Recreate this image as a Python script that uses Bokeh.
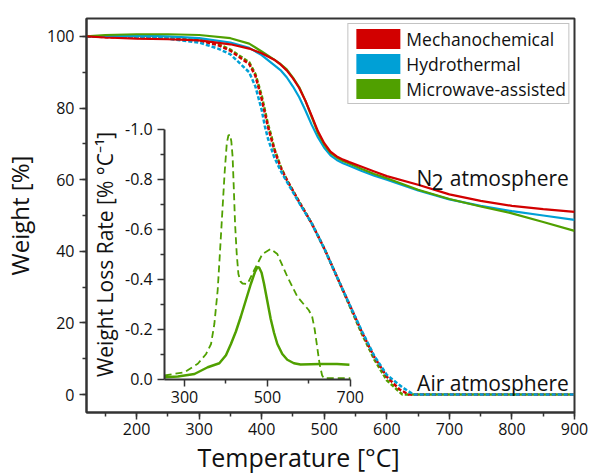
from bokeh.plotting import figure
from bokeh.models import (Range1d, LinearAxis, FixedTicker, SingleIntervalTicker, Title,
                          Legend, LegendItem, Label, ColumnDataSource, NumeralTickFormatter)
from bokeh.embed import file_html
from bokeh.resources import INLINE

FONT = "Open Sans"

series_names = ["Mechanochemical", "Hydrothermal", "Microwave-assisted"]
series_colors = ["#d20000", "#00a0d6", "#50a000"]

# ---- N2 atmosphere (solid) ----
n2_temp = [120, 150, 200, 250, 300, 350, 380, 400, 420, 430, 440, 450, 460, 470, 480, 490, 500, 510, 520,
           530, 540, 560, 580, 600, 650, 700, 750, 800, 850, 900]
n2_mech = [100, 99.7, 99.4, 99.2, 98.9, 97.8, 96.6, 95.3, 93.5, 92.2, 90.5, 88.3, 85.6, 82.0, 77.8, 73.5, 70.2,
           67.8, 66.5, 65.6, 64.9, 63.6, 62.3, 61.0, 58.6, 55.9, 54.1, 52.7, 51.8, 51.0]
n2_hydro = [100, 100.1, 100.2, 100.0, 99.5, 98.3, 96.8, 94.8, 92.0, 90.6, 88.6, 86.0, 83.0, 79.3, 75.3, 71.8,
            68.9, 66.8, 65.5, 64.6, 63.9, 62.4, 61.1, 60.0, 57.0, 54.5, 52.7, 51.2, 50.0, 48.8]
n2_micro = [100, 100.4, 100.6, 100.6, 100.4, 99.5, 98.0, 95.8, 93.5, 92.3, 90.8, 88.5, 85.8, 82.0, 77.5, 73.0,
            69.8, 67.5, 66.2, 65.2, 64.5, 63.0, 61.6, 60.4, 57.2, 54.6, 52.5, 50.6, 48.2, 45.7]

# ---- Air atmosphere (dashed) ----
air_temp_mech = [120, 150, 200, 250, 300, 330, 350, 380, 390, 400, 410, 420, 430, 440, 460, 480, 500,
                 520, 540, 560, 580, 600, 620, 635, 900]
air_mech = [100, 99.8, 99.6, 99.4, 98.8, 97.6, 96.0, 92.3, 89.0, 82.5, 74.8, 68.5, 63.5, 60.0, 53.8, 47.8, 40.8,
            33.0, 25.3, 17.5, 10.5, 5.0, 1.5, 0, 0]
air_temp_hydro = [120, 150, 200, 250, 300, 330, 350, 380, 390, 400, 405, 410, 420, 430, 440, 460, 480, 500,
                  520, 540, 560, 580, 600, 625, 643, 900]
air_hydro = [100, 100, 99.8, 99.4, 98.3, 96.6, 95.0, 90.0, 86.0, 79.5, 75.0, 71.5, 66.3, 62.6, 59.5, 53.5, 47.8,
             40.8, 33.0, 25.3, 17.8, 10.8, 5.5, 2.0, 0, 0]
air_temp_micro = [120, 150, 200, 250, 300, 330, 350, 380, 390, 400, 410, 415, 420, 430, 440, 460, 480, 500,
                  520, 540, 560, 580, 600, 625, 900]
air_micro = [100, 100, 99.8, 99.5, 99.0, 97.9, 96.3, 92.8, 89.5, 83.5, 75.5, 72.5, 68.8, 63.8, 60.0, 53.8, 47.8,
             40.8, 33.0, 25.0, 17.0, 9.8, 4.0, 0, 0]

# ---- Inset: weight loss rate (Microwave-assisted) ----
dtg_n2_temp = [252, 284, 324, 356, 384, 400, 412, 424, 436, 448, 460, 470, 476, 480, 486, 492, 500, 508, 516,
               524, 536, 548, 564, 580, 628, 668, 698]
dtg_n2 = [-0.007, -0.01, -0.02, -0.047, -0.063, -0.095, -0.14, -0.19, -0.25, -0.315, -0.38, -0.428, -0.447,
          -0.446, -0.425, -0.38, -0.31, -0.24, -0.185, -0.14, -0.1, -0.077, -0.063, -0.058, -0.06, -0.06, -0.057]
dtg_air_temp = [252, 300, 332, 352, 364, 372, 380, 386, 392, 397, 402, 406, 410, 413, 416, 419, 422, 426, 430,
                435, 440, 452, 468, 488, 508, 524, 548, 572, 600, 608, 614, 620, 626, 632, 636, 700]
dtg_air = [-0.014, -0.027, -0.061, -0.1, -0.14, -0.22, -0.355, -0.52, -0.69, -0.83, -0.943, -0.975, -0.977,
           -0.95, -0.89, -0.76, -0.62, -0.5, -0.42, -0.39, -0.382, -0.38, -0.435, -0.50, -0.52, -0.50, -0.41,
           -0.33, -0.275, -0.25, -0.2, -0.13, -0.06, -0.015, -0.003, -0.003]

inset_x_ticks = [300, 500, 700]
inset_x_minor = [400, 600]
inset_y_ticks = [0.0, -0.2, -0.4, -0.6, -0.8, -1.0]
inset_y_minor = [-0.1, -0.3, -0.5, -0.7, -0.9]

# ---- layout constants ----
W, H = 590, 473
BL, BR, BT, BB = 85, 16, 18, 61
FW, FH = W - BL - BR, H - BT - BB
X0, X1 = 120, 900
Y0, Y1 = -5, 105

# inset placement (pixels inside frame) and data extents
ix_lo, ix_hi = 252, 700
ix_px_lo, ix_px_hi = 163.3 - BL, 349.3 - BL
iy_lo, iy_hi = 0.0, -1.0
iy_px_lo, iy_px_hi = 412 - 378.5, 412 - 128.5  # from frame bottom

sx = (ix_px_hi - ix_px_lo) / (ix_hi - ix_lo)
ix_start = ix_lo - ix_px_lo / sx
ix_end = ix_start + FW / sx
sy = (iy_px_hi - iy_px_lo) / (iy_lo - iy_hi)
iy_start = iy_lo + iy_px_lo / sy
iy_end = iy_start - FH / sy

p = figure(width=W, height=H, output_backend="svg", toolbar_location=None,
           x_range=Range1d(X0, X1), y_range=Range1d(Y0, Y1),
           min_border_left=BL, min_border_right=BR, min_border_top=BT, min_border_bottom=BB)
p.extra_x_ranges = {"ix": Range1d(ix_start, ix_end)}
p.extra_y_ranges = {"iy": Range1d(iy_start, iy_end)}

p.xgrid.visible = False
p.ygrid.visible = False
p.background_fill_color = "white"
p.border_fill_color = "white"
p.outline_line_color = "#333333"
p.outline_line_width = 2

AX = "#333333"


def style_axis(ax, label_size):
    ax.axis_line_width = 2
    ax.axis_line_color = AX
    ax.major_tick_line_color = AX
    ax.minor_tick_line_color = AX
    ax.major_tick_line_width = 1.5
    ax.minor_tick_line_width = 1.5
    ax.major_tick_in = 0
    ax.major_tick_out = 7
    ax.minor_tick_in = 0
    ax.minor_tick_out = 4
    ax.major_label_text_font = FONT
    ax.major_label_text_font_size = "16px"
    ax.major_label_text_color = "#111111"
    ax.axis_label_text_font = FONT
    ax.axis_label_text_font_size = label_size
    ax.axis_label_text_font_style = "normal"
    ax.axis_label_text_color = "#111111"


style_axis(p.xaxis[0], "24px")
style_axis(p.yaxis[0], "24px")
p.xaxis[0].ticker = SingleIntervalTicker(interval=100, num_minor_ticks=2)
p.yaxis[0].ticker = SingleIntervalTicker(interval=20, num_minor_ticks=2)
p.yaxis[0].axis_label = "Weight [%]"
p.xaxis[0].major_label_standoff = 3
p.yaxis[0].axis_label_standoff = 8

# x axis title, set left of the frame centre as in the original
p.add_layout(Title(text="Temperature [°C]", align="left", offset=111, standoff=0,
                   text_font=FONT, text_font_size="25px", text_font_style="normal",
                   text_color="#111111"), "below")

# dashed air curves
for t, w, c in [(air_temp_micro, air_micro, series_colors[2]),
                (air_temp_mech, air_mech, series_colors[0]),
                (air_temp_hydro, air_hydro, series_colors[1])]:
    p.line(t, w, line_color=c, line_width=2.5, line_dash="4 2")

# solid N2 curves
for w, c in [(n2_hydro, series_colors[1]), (n2_micro, series_colors[2]), (n2_mech, series_colors[0])]:
    p.line(n2_temp, w, line_color=c, line_width=2.2)

# inset curves
p.line(dtg_air_temp, dtg_air, x_range_name="ix", y_range_name="iy",
       line_color=series_colors[2], line_width=1.8, line_dash="7 4")
p.line(dtg_n2_temp, dtg_n2, x_range_name="ix", y_range_name="iy",
       line_color=series_colors[2], line_width=2.5)

# inset axes
iax = LinearAxis(x_range_name="ix", y_range_name="iy", fixed_location=0.0,
                 bounds=(ix_lo, ix_hi),
                 ticker=FixedTicker(ticks=inset_x_ticks, minor_ticks=inset_x_minor))
iay = LinearAxis(x_range_name="ix", y_range_name="iy", fixed_location=ix_lo,
                 bounds=(iy_hi, iy_lo),
                 ticker=FixedTicker(ticks=inset_y_ticks, minor_ticks=inset_y_minor),
                 formatter=NumeralTickFormatter(format="0.0"),
                 axis_label="Weight Loss Rate [% °C⁻¹]")
style_axis(iax, "21px")
style_axis(iay, "21px")
iay.axis_label_standoff = 3
p.add_layout(iax, "below")
p.add_layout(iay, "left")

# legend with filled patches
nan = float("nan")
items = []
for name, c in zip(series_names, series_colors):
    src = ColumnDataSource(dict(l=[nan], r=[nan], t=[nan], b=[nan]))
    r = p.quad(left="l", right="r", top="t", bottom="b", source=src, fill_color=c, line_color=None)
    items.append(LegendItem(label=name, renderers=[r]))
legend = Legend(items=items, location="top_right", margin=5, padding=2, spacing=0,
                glyph_width=55, glyph_height=25, label_standoff=1,
                label_text_font=FONT, label_text_font_size="17.5px", label_text_color="#111111",
                label_height=20,
                border_line_color="#888888", border_line_width=1,
                background_fill_color="white", background_fill_alpha=1.0)
p.add_layout(legend)

# annotations
lab_kw = dict(text_font=FONT, text_font_size="21px", text_color="#111111", text_baseline="alphabetic")
p.add_layout(Label(x=891, y=60.6, text="atmosphere", text_align="right", **lab_kw))
p.add_layout(Label(x=647.4, y=60.6, text="N", text_align="left", **lab_kw))
p.add_layout(Label(x=647.4, y=60.6, x_offset=15, y_offset=-4.5, text="2", text_align="left", **lab_kw))
p.add_layout(Label(x=891, y=3.3, text="Air atmosphere", text_align="right", **lab_kw))

open("out.html", "w").write(file_html(p, INLINE))
